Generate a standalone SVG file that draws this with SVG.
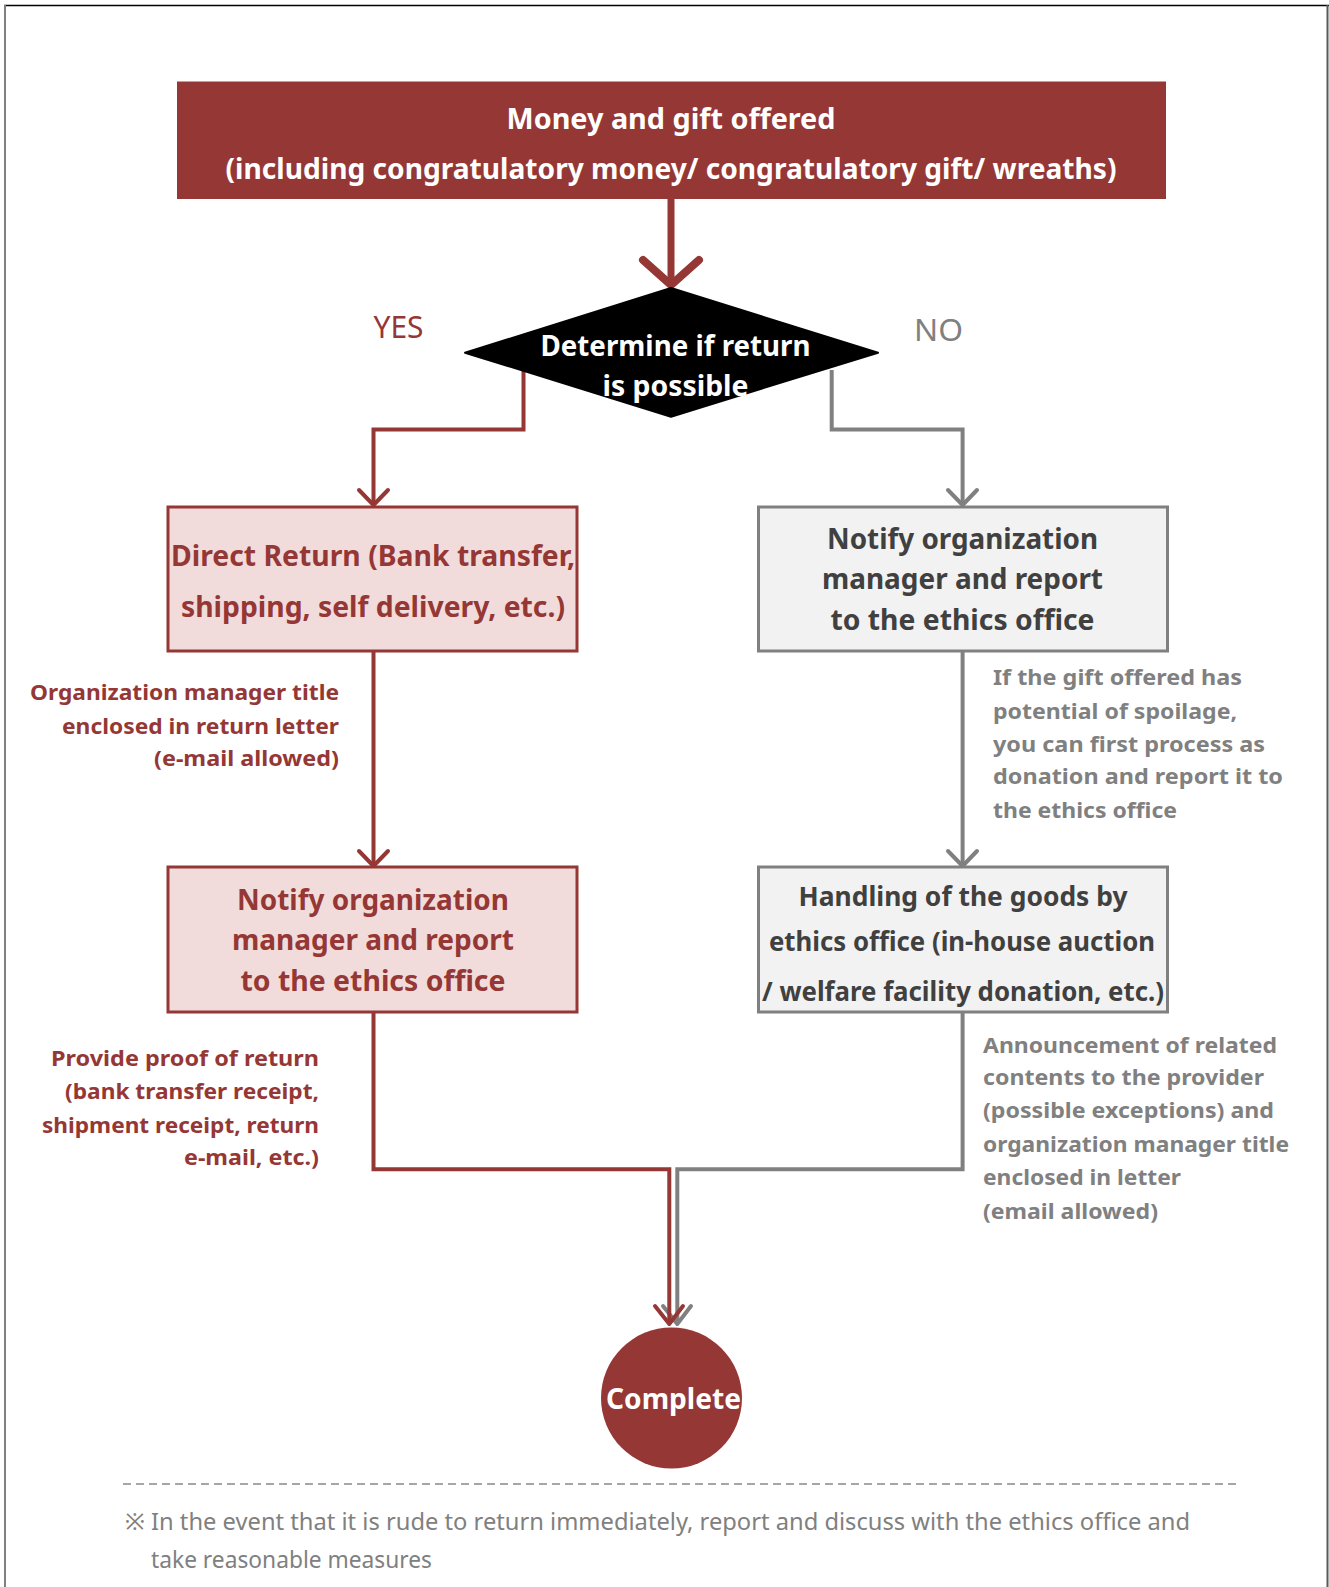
<svg xmlns="http://www.w3.org/2000/svg" width="1329" height="1587" viewBox="0 0 1329 1587">
<style>
text{font-family:"Noto Sans","Open Sans","Liberation Sans",sans-serif;}
.b{font-weight:bold;}
.w{fill:#ffffff;}
.r{fill:#953735;}
.g{fill:#808080;}
.d{fill:#404040;}
.c{text-anchor:middle;}
.e{text-anchor:end;}
.t28{font-size:28px;}
.t26{font-size:26px;}
.t22{font-size:22px;}
.lr{fill:none;stroke:#953735;stroke-width:4;stroke-linejoin:miter;}
.lg{fill:none;stroke:#808080;stroke-width:4;stroke-linejoin:miter;}
.ar{fill:none;stroke:#953735;stroke-width:4;stroke-linecap:round;stroke-linejoin:round;}
.ag{fill:none;stroke:#808080;stroke-width:4;stroke-linecap:round;stroke-linejoin:round;}
</style>
<rect x="0" y="0" width="1329" height="1587" fill="#ffffff"/>
<g id="frame">
<line x1="4" y1="5.5" x2="1329" y2="5.5" stroke="#000000" stroke-width="1.5"/>
<line x1="5" y1="5" x2="5" y2="1587" stroke="#808080" stroke-width="2"/>
<line x1="1327.5" y1="5" x2="1327.5" y2="1587" stroke="#595959" stroke-width="2"/>
</g>
<g id="connectors">
<line x1="671" y1="199" x2="671" y2="283" stroke="#953735" stroke-width="7"/>
<polyline points="643,260 671,285 699,260" fill="none" stroke="#953735" stroke-width="8" stroke-linecap="round" stroke-linejoin="round"/>
<path class="lr" d="M523.5,370 V429.5 H373.5 V503"/>
<polyline class="ar" points="359,490 373.5,505 388,490"/>
<path class="lg" d="M831.7,370 V429.5 H962.6 V503"/>
<polyline class="ag" points="948,490 962.6,505 977,490"/>
<path class="lr" d="M373.5,651 V864"/>
<polyline class="ar" points="359,851 373.5,866 388,851"/>
<path class="lg" d="M962.6,651 V864"/>
<polyline class="ag" points="948,851 962.6,866 977,851"/>
<path class="lg" d="M962.6,1012 V1169.3 H677.3 V1323"/>
<polyline class="ag" points="663,1306 677.3,1324 691,1306"/>
<path class="lr" d="M373.5,1012 V1169.3 H669.3 V1323"/>
<polyline class="ar" points="655,1306 669.3,1324 683,1306"/>
</g>
<g id="start">
<rect x="177" y="81.5" width="989" height="117.5" fill="#953735"/>
<text class="b w c t28" x="671" y="129" textLength="329" lengthAdjust="spacingAndGlyphs">Money and gift offered</text>
<text class="b w c t28" x="671" y="179" textLength="891" lengthAdjust="spacingAndGlyphs">(including congratulatory money/ congratulatory gift/ wreaths)</text>
</g>
<g id="decision">
<polygon points="671,288 878,352.7 671,416.7 465,352.7" fill="#000000" stroke="#000000" stroke-width="2" stroke-linejoin="round"/>
<text class="b w c t28" x="675.5" y="356" textLength="270" lengthAdjust="spacingAndGlyphs">Determine if return</text>
<text class="b w c t28" x="675.5" y="396" textLength="146" lengthAdjust="spacingAndGlyphs">is possible</text>
</g>
<g id="label-yes">
<text class="r" x="373.5" y="338" font-size="30" textLength="50" lengthAdjust="spacingAndGlyphs">YES</text>
</g>
<g id="label-no">
<text class="g" x="914" y="341" font-size="30" textLength="49" lengthAdjust="spacingAndGlyphs">NO</text>
</g>
<g id="direct-return">
<rect x="168" y="507" width="409" height="144" fill="#f2dcdb" stroke="#953735" stroke-width="3"/>
<text class="b r c t28" x="373" y="566" textLength="404" lengthAdjust="spacingAndGlyphs">Direct Return (Bank transfer,</text>
<text class="b r c t28" x="373" y="617" textLength="384" lengthAdjust="spacingAndGlyphs">shipping, self delivery, etc.)</text>
</g>
<g id="notify-right">
<rect x="758.5" y="507" width="409" height="144" fill="#f2f2f2" stroke="#808080" stroke-width="3"/>
<text class="b d c t28" x="962.5" y="549" textLength="271" lengthAdjust="spacingAndGlyphs">Notify organization</text>
<text class="b d c t28" x="962.5" y="589" textLength="281" lengthAdjust="spacingAndGlyphs">manager and report</text>
<text class="b d c t28" x="962.5" y="630" textLength="264" lengthAdjust="spacingAndGlyphs">to the ethics office</text>
</g>
<g id="notify-left">
<rect x="168" y="867" width="409" height="145" fill="#f2dcdb" stroke="#953735" stroke-width="3"/>
<text class="b r c t28" x="373" y="910" textLength="272" lengthAdjust="spacingAndGlyphs">Notify organization</text>
<text class="b r c t28" x="373" y="950" textLength="282" lengthAdjust="spacingAndGlyphs">manager and report</text>
<text class="b r c t28" x="373" y="991" textLength="265" lengthAdjust="spacingAndGlyphs">to the ethics office</text>
</g>
<g id="handling">
<rect x="758.5" y="867" width="409" height="145" fill="#f2f2f2" stroke="#808080" stroke-width="3"/>
<text class="b d c t26" x="963" y="906" textLength="329" lengthAdjust="spacingAndGlyphs">Handling of the goods by</text>
<text class="b d c t26" x="962" y="951" textLength="386" lengthAdjust="spacingAndGlyphs">ethics office (in-house auction</text>
<text class="b d c t26" x="963" y="1001" textLength="402" lengthAdjust="spacingAndGlyphs">/ welfare facility donation, etc.)</text>
</g>
<g id="note-left-1">
<text class="b r e t22" x="339" y="700" textLength="309" lengthAdjust="spacingAndGlyphs">Organization manager title</text>
<text class="b r e t22" x="339" y="734" textLength="277" lengthAdjust="spacingAndGlyphs">enclosed in return letter</text>
<text class="b r e t22" x="339" y="766" textLength="185" lengthAdjust="spacingAndGlyphs">(e-mail allowed)</text>
</g>
<g id="note-right-1">
<text class="b g t22" x="993" y="685" textLength="249" lengthAdjust="spacingAndGlyphs">If the gift offered has</text>
<text class="b g t22" x="993" y="719" textLength="244" lengthAdjust="spacingAndGlyphs">potential of spoilage,</text>
<text class="b g t22" x="993" y="752" textLength="272" lengthAdjust="spacingAndGlyphs">you can first process as</text>
<text class="b g t22" x="993" y="784" textLength="290" lengthAdjust="spacingAndGlyphs">donation and report it to</text>
<text class="b g t22" x="993" y="818" textLength="184" lengthAdjust="spacingAndGlyphs">the ethics office</text>
</g>
<g id="note-left-2">
<text class="b r e t22" x="319" y="1066" textLength="268" lengthAdjust="spacingAndGlyphs">Provide proof of return</text>
<text class="b r e t22" x="319" y="1099" textLength="254" lengthAdjust="spacingAndGlyphs">(bank transfer receipt,</text>
<text class="b r e t22" x="319" y="1133" textLength="277" lengthAdjust="spacingAndGlyphs">shipment receipt, return</text>
<text class="b r e t22" x="319" y="1165" textLength="135" lengthAdjust="spacingAndGlyphs">e-mail, etc.)</text>
</g>
<g id="note-right-2">
<text class="b g t22" x="983" y="1053" textLength="294" lengthAdjust="spacingAndGlyphs">Announcement of related</text>
<text class="b g t22" x="983" y="1085" textLength="281" lengthAdjust="spacingAndGlyphs">contents to the provider</text>
<text class="b g t22" x="983" y="1118" textLength="291" lengthAdjust="spacingAndGlyphs">(possible exceptions) and</text>
<text class="b g t22" x="983" y="1152" textLength="306" lengthAdjust="spacingAndGlyphs">organization manager title</text>
<text class="b g t22" x="983" y="1185" textLength="198" lengthAdjust="spacingAndGlyphs">enclosed in letter</text>
<text class="b g t22" x="983" y="1219" textLength="175" lengthAdjust="spacingAndGlyphs">(email allowed)</text>
</g>
<g id="complete">
<circle cx="671.5" cy="1398" r="70.5" fill="#953735"/>
<text class="b w t28" x="606" y="1409" font-size="30" textLength="135" lengthAdjust="spacingAndGlyphs">Complete</text>
</g>
<g id="footnote">
<line x1="123" y1="1484" x2="1239" y2="1484" stroke="#a6a6a6" stroke-width="2" stroke-dasharray="8,5"/>
<text class="g" x="125" y="1530" font-size="23" textLength="1065" lengthAdjust="spacingAndGlyphs">※ In the event that it is rude to return immediately, report and discuss with the ethics office and</text>
<text class="g" x="151" y="1568" font-size="23" textLength="281" lengthAdjust="spacingAndGlyphs">take reasonable measures</text>
</g>
</svg>
